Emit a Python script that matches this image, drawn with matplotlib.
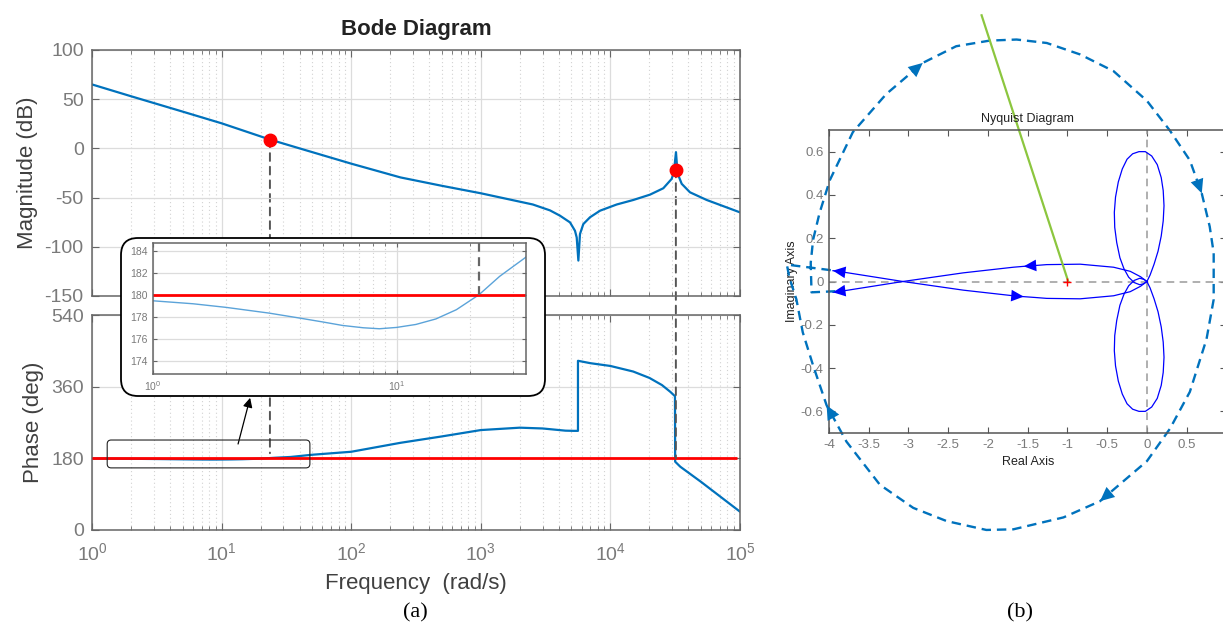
"""
Bode / Nyquist figure: (a) Bode diagram with inset zoom, (b) Nyquist diagram
"""

import numpy as np
import matplotlib
matplotlib.use("Agg")
import matplotlib.pyplot as plt
from matplotlib.patches import FancyBboxPatch, ConnectionPatch
from matplotlib.ticker import LogLocator, NullFormatter

plt.rcParams["font.family"] = ["Liberation Sans", "DejaVu Sans"]
plt.rcParams["axes.unicode_minus"] = False

# ---- Bode data ----
MAG_W = [1, 2, 5, 10, 23.6, 40, 100, 240, 500, 1000, 2520, 3420, 4085, 4880, 5330, 5495,
         5660, 5825, 6180, 6960, 8320, 11190, 15040, 20200, 25600, 29700, 30900, 32060,
         33000, 35500, 41100, 55300, 100000]
MAG_DB = [65, 53, 37.4, 25.5, 9, 0, -15.5, -29.5, -38, -45.6, -57, -63, -68.4, -75.2, -83.7, -90.5,
          -114, -87, -76.9, -70, -63.3, -57, -52.4, -47, -40.5, -31, -24, -3.8,
          -25.5, -36, -44.6, -52.4, -65]

PH_W = [1, 1.46, 2, 3, 4, 5, 6, 7.3, 8.5, 10, 12, 14.5, 17.6, 21.8, 26.5, 34, 50, 100,
        240, 500, 1000, 2000, 3000, 4500, 5200, 5620, 5620, 7000, 10000, 15000, 20000,
        25000, 29000, 31500, 31600, 34600, 50000, 100000]
PH_DEG = [179.45, 179.18, 178.85, 178.33, 177.88, 177.52, 177.21, 177.0, 176.91, 177.03,
          177.3, 177.8, 178.64, 180.0, 181.67, 183.42, 189, 196.5,
          219, 235, 251, 257, 255, 249.5, 249, 249, 425, 419, 412, 398, 382,
          364, 347, 336, 171.6, 159, 121, 46]

DOT_W = [23.6, 32000]
DOT_DB = [9, -21.5]
DROP_DEG = [193, 180]          # where the dashed drop lines end in the phase plot
CROSS_W = 21.8                 # phase crossing shown in the inset
ZOOM_W = (1.31, 48)            # small box in the phase plot
ZOOM_DEG = (156, 226)

# ---- Nyquist data (upper halves, mirrored for the conjugate part) ----
BR_RE = [0, -0.08, -0.21, -0.42, -0.84, -1.26, -1.4, -1.55, -1.68, -2.31, -3.07, -3.83, -3.95]
BR_IM = [0, 0.022, 0.047, 0.066, 0.08, 0.078, 0.074, 0.07, 0.066, 0.04, 0.0, -0.044, -0.05]

LOBE_RE = [0, 0.04, 0.09, 0.14, 0.18, 0.205, 0.215, 0.205, 0.18, 0.13, 0.06, -0.02, -0.10,
           -0.18, -0.25, -0.31, -0.36, -0.395, -0.41, -0.405, -0.38, -0.34, -0.29, -0.23,
           -0.16, -0.09, -0.04, 0]
LOBE_IM = [0, 0.03, 0.08, 0.14, 0.21, 0.28, 0.35, 0.42, 0.48, 0.54, 0.58, 0.60, 0.60,
           0.59, 0.565, 0.52, 0.46, 0.39, 0.32, 0.25, 0.18, 0.11, 0.06, 0.02,
           -0.005, -0.015, -0.01, 0]

DASH_RE = [-3.92, -4.22, -4.23, -4.20, -4.12, -3.99, -3.70, -3.28, -2.82, -2.40, -1.98,
           -1.64, -1.26, -0.84, -0.42, 0.0, 0.29, 0.54, 0.69, 0.79, 0.84, 0.84, 0.84,
           0.75, 0.54, 0.29, 0.0, -0.59, -1.05, -1.68, -2.02, -2.52, -2.94, -3.36,
           -3.78, -4.03, -4.20, -4.33, -4.41, -4.50, -4.53, -3.97]
DASH_IM = [-0.045, -0.05, 0.086, 0.193, 0.315, 0.468, 0.69, 0.866, 1.01, 1.087, 1.113,
           1.118, 1.102, 1.049, 0.972, 0.835, 0.697, 0.56, 0.407, 0.254, 0.132, 0.0,
           -0.083, -0.266, -0.51, -0.68, -0.83, -1.015, -1.09, -1.145, -1.148, -1.107,
           -1.046, -0.939, -0.74, -0.572, -0.388, -0.235, -0.083, 0.02, 0.078, 0.052]
DASH_ARROWS = [8, 18, 27, 35]

GREEN_RE = [-2.08, -0.99]
GREEN_IM = [1.23, 0.0]

NY_XTICKS = [-4, -3.5, -3, -2.5, -2, -1.5, -1, -0.5, 0, 0.5]
NY_XLABELS = ["-4", "-3.5", "-3", "-2.5", "-2", "-1.5", "-1", "-0.5", "0", "0.5"]
NY_YTICKS = [-0.6, -0.4, -0.2, 0, 0.2, 0.4, 0.6]
NY_YLABELS = ["-0.6", "-0.4", "-0.2", "0", "0.2", "0.4", "0.6"]

MBLUE = "#0072BD"
W, H = 1223, 625
fig = plt.figure(figsize=(W / 100, H / 100), dpi=100)


def px_axes(x0, y0, x1, y1, **kw):
    return fig.add_axes([x0 / W, 1 - y1 / H, (x1 - x0) / W, (y1 - y0) / H], **kw)


def style_bode(ax, fs, pad):
    ax.set_xscale("log")
    ax.xaxis.set_major_locator(LogLocator(base=10, numticks=12))
    ax.xaxis.set_minor_locator(LogLocator(base=10, subs=np.arange(2, 10), numticks=12))
    ax.xaxis.set_minor_formatter(NullFormatter())
    ax.grid(True, which="major", color="#dcdcdc", lw=0.9)
    ax.grid(True, which="minor", axis="x", color="#d2d2d2", ls=(0, (1, 2.5)), lw=0.8)
    ax.set_axisbelow(True)
    ax.tick_params(which="both", direction="in", top=True, right=True, color="#666666",
                   labelcolor="#7a7a7a", labelsize=fs, pad=pad)
    ax.tick_params(which="major", length=5)
    ax.tick_params(which="minor", length=3)
    for s in ax.spines.values():
        s.set_color("#666666")
        s.set_linewidth(1.1)


def head(ax, xs, ys, i, back=False, color="blue", size=15):
    j = i + 1 if back else i - 1
    ax.annotate("", xy=(xs[i], ys[i]), xytext=(xs[j], ys[j]),
                arrowprops=dict(arrowstyle="-|>,head_length=0.6,head_width=0.28", color=color,
                                lw=0, mutation_scale=size, shrinkA=0, shrinkB=0),
                annotation_clip=False)


# ---- (a) Bode ----
ax_mag = px_axes(92, 50, 740, 296, zorder=2)
ax_ph = px_axes(92, 315, 740, 530, zorder=1)

style_bode(ax_mag, 14, 6)
ax_mag.patch.set_visible(False)
ax_mag.plot(MAG_W, MAG_DB, color=MBLUE, lw=1.6)
ax_mag.plot(DOT_W, DOT_DB, "o", color="red", ms=9, zorder=4)
ax_mag.set_xlim(1, 1e5)
ax_mag.set_ylim(-150, 100)
ax_mag.set_yticks(range(-150, 101, 50))
ax_mag.tick_params(labelbottom=False)
ax_mag.set_ylabel("Magnitude (dB)", fontsize=16, color="#404040", labelpad=5)
ax_mag.set_title("Bode Diagram", fontsize=16, fontweight="bold", color="#222222", pad=11)

style_bode(ax_ph, 14, 6)
ax_ph.tick_params(axis="x", pad=9)
ax_ph.plot(PH_W, PH_DEG, color=MBLUE, lw=1.6)
ax_ph.hlines(180, 1, 9.5e4, color="red", lw=2, zorder=3)
ax_ph.set_xlim(1, 1e5)
ax_ph.set_ylim(0, 540)
ax_ph.set_yticks([0, 180, 360, 540])
ax_ph.set_ylabel("Phase (deg)", fontsize=16, color="#404040", labelpad=5)
ax_ph.set_xlabel("Frequency  (rad/s)", fontsize=16, color="#404040", labelpad=6)

# dashed drop lines from the red dots into the phase plot
for w, db, ph in zip(DOT_W, DOT_DB, DROP_DEG):
    con = ConnectionPatch(xyA=(w, db), coordsA=ax_mag.transData, xyB=(w, ph),
                          coordsB=ax_ph.transData, color="#555555", lw=1.4,
                          ls=(0, (4, 3)), zorder=1.5)
    fig.add_artist(con)

# small zoom box in the phase plot
(zx0, zy0), (zx1, zy1) = ax_ph.transData.transform([(ZOOM_W[0], ZOOM_DEG[0]), (ZOOM_W[1], ZOOM_DEG[1])])
dpi = fig.dpi
fig.add_artist(FancyBboxPatch((zx0 / dpi, zy0 / dpi), (zx1 - zx0) / dpi, (zy1 - zy0) / dpi,
                              boxstyle="round,pad=0,rounding_size=0.04",
                              transform=fig.dpi_scale_trans, fc="none", ec="#222222",
                              lw=0.8, zorder=3))
ax_ph.annotate("", xy=(16.6, 332), xytext=(13.4, 216),
               arrowprops=dict(arrowstyle="-|>", color="black", lw=0.9, mutation_scale=14,
                               shrinkA=0, shrinkB=0), annotation_clip=False)

# inset with rounded frame
fig.add_artist(FancyBboxPatch((1.21, 2.29), 4.24, 1.58, boxstyle="round,pad=0,rounding_size=0.17",
                              transform=fig.dpi_scale_trans, fc="white", ec="black",
                              lw=1.3, zorder=4))
ax_in = px_axes(153, 243, 526, 374, zorder=5)
style_bode(ax_in, 7.5, 4)
ax_in.tick_params(which="major", length=3)
ax_in.tick_params(which="minor", length=2)
ax_in.plot(PH_W, PH_DEG, color="#5ba3d9", lw=1)
ax_in.axhline(180, color="red", lw=2)
ax_in.set_xlim(1, 34)
ax_in.set_ylim(172.8, 184.7)
ax_in.set_yticks(range(174, 185, 2))
ax_in.vlines(CROSS_W, 180, 184.7, colors="#666666", linestyles=(0, (4, 2.5)), lw=1.6)

fig.text(415 / W, 1 - 613 / H, "(a)", family=["Liberation Serif", "DejaVu Serif"],
         fontsize=16, ha="center", va="center")

# ---- (b) Nyquist ----
ax_ny = px_axes(829, 130, 1226.4, 433)
ax_ny.set_xlim(-4, 1)
ax_ny.set_ylim(-0.7, 0.7)
ax_ny.set_xticks(NY_XTICKS)
ax_ny.set_xticklabels(NY_XLABELS)
ax_ny.set_yticks(NY_YTICKS)
ax_ny.set_yticklabels(NY_YLABELS)
ax_ny.tick_params(direction="in", top=True, right=True, length=4, color="#555555",
                  labelcolor="#7a7a7a", labelsize=9.5, pad=4)
for s in ax_ny.spines.values():
    s.set_color("#555555")
    s.set_linewidth(1.1)
ax_ny.set_title("Nyquist Diagram", fontsize=9, color="#222222", pad=6)
ax_ny.set_xlabel("Real Axis", fontsize=9, color="#222222", labelpad=4)
ax_ny.set_ylabel("Imaginary Axis", fontsize=9, color="#222222", labelpad=2)

ax_ny.axhline(0, color="#9a9a9a", ls=(0, (5, 3.5)), lw=1.1)
ax_ny.axvline(0, color="#9a9a9a", ls=(0, (5, 3.5)), lw=1.1)

br_re, br_im = np.array(BR_RE), np.array(BR_IM)
lobe_re, lobe_im = np.array(LOBE_RE), np.array(LOBE_IM)
ax_ny.plot(br_re, br_im, color="blue", lw=0.9, clip_on=False)
ax_ny.plot(br_re, -br_im, color="blue", lw=0.9, clip_on=False)
ax_ny.plot(lobe_re, lobe_im, color="blue", lw=0.9)
ax_ny.plot(lobe_re, -lobe_im, color="blue", lw=0.9)

head(ax_ny, br_re, br_im, 7)
head(ax_ny, br_re, br_im, len(BR_RE) - 1)
head(ax_ny, br_re, -br_im, 7, back=True)
head(ax_ny, br_re, -br_im, len(BR_RE) - 1)

ax_ny.plot(DASH_RE, DASH_IM, color=MBLUE, lw=1.7, ls=(0, (4, 2.5)), clip_on=False)
for i in DASH_ARROWS:
    head(ax_ny, DASH_RE, DASH_IM, i, color=MBLUE, size=17)

ax_ny.plot(GREEN_RE, GREEN_IM, color="#8cc63f", lw=1.6, clip_on=False)
ax_ny.plot([-1], [0], "+", color="red", ms=6, mew=1)

fig.text(1020 / W, 1 - 613 / H, "(b)", family=["Liberation Serif", "DejaVu Serif"],
         fontsize=16, ha="center", va="center")

fig.savefig("out.png", dpi=100)
